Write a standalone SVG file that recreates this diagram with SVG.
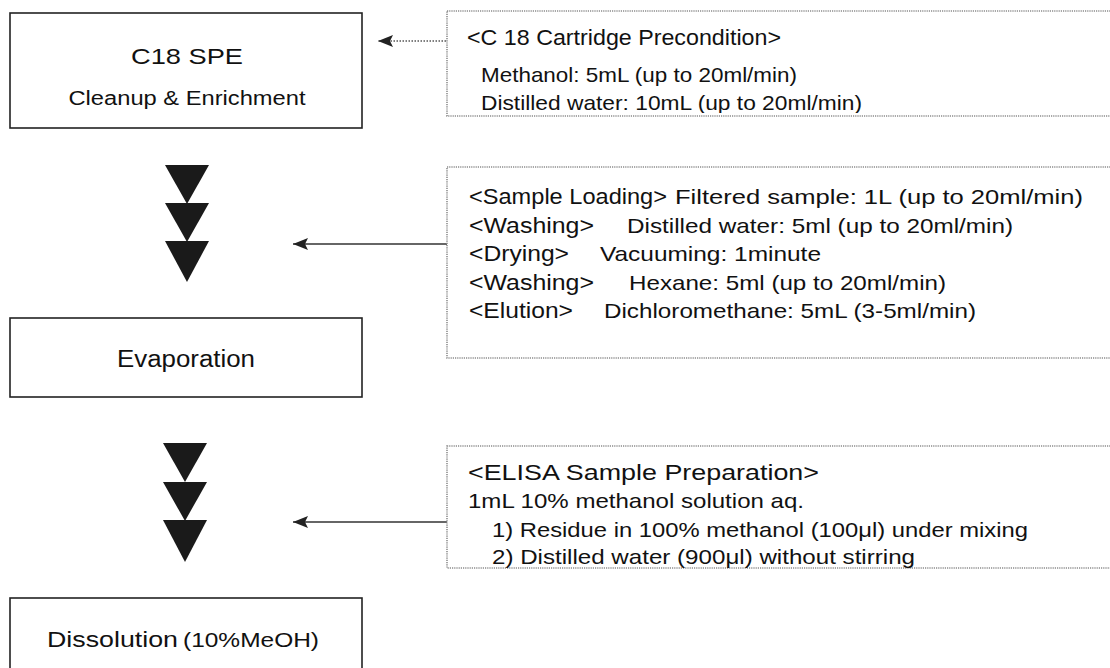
<svg xmlns="http://www.w3.org/2000/svg" width="1110" height="668" viewBox="0 0 1110 668">
<style>
text{font-family:"Liberation Sans",Arial,Helvetica,sans-serif;fill:#111}
.box{fill:#fff;stroke:#222;stroke-width:1.6}
.note{fill:none;stroke:#8c8c8c;stroke-width:1.6;stroke-dasharray:1.2 1}
.lbl{font-size:22.5px}
.det{font-size:21px}
.tri{fill:#1a1a1a}
.conn{stroke:#333;stroke-width:1.6;fill:none}
.dot{stroke:#555;stroke-width:1.4;stroke-dasharray:1.5 1.5;fill:none}
</style>
<defs>
<marker id="ah" markerWidth="16" markerHeight="12" refX="15" refY="6" orient="auto" markerUnits="userSpaceOnUse">
<path d="M0,0 L15,6 L0,12 L3,6 Z" fill="#222"/>
</marker>
<clipPath id="clip1"><rect x="447" y="11" width="663" height="102"/></clipPath>
</defs>

<g id="connectors">
<line class="dot" x1="446" y1="41" x2="378" y2="41" marker-end="url(#ah)"/>
<line class="conn" x1="447" y1="244" x2="293" y2="244" marker-end="url(#ah)"/>
<line class="conn" x1="447" y1="522" x2="293" y2="522" marker-end="url(#ah)"/>
<g id="flow1">
<polygon class="tri" points="165,165 209,165 187,204"/>
<polygon class="tri" points="165,203 209,203 187,242"/>
<polygon class="tri" points="165,241 209,241 187,282"/>
</g>
<g id="flow2">
<polygon class="tri" points="163,443 207,443 185,482"/>
<polygon class="tri" points="163,482 207,482 185,521"/>
<polygon class="tri" points="163,520 207,520 185,562"/>
</g>
</g>

<g id="node-spe">
<rect class="box" x="10" y="13" width="352" height="115"/>
<text x="187" y="64" text-anchor="middle" font-size="22.5" textLength="112" lengthAdjust="spacingAndGlyphs">C18 SPE</text>
<text x="187" y="105" text-anchor="middle" font-size="19.5" textLength="237" lengthAdjust="spacingAndGlyphs">Cleanup &amp; Enrichment</text>
</g>

<g id="node-evap">
<rect class="box" x="10" y="318" width="352" height="79"/>
<text x="186" y="367" text-anchor="middle" font-size="23" textLength="138" lengthAdjust="spacingAndGlyphs">Evaporation</text>
</g>

<g id="node-diss">
<rect class="box" x="10" y="598" width="352" height="90"/>
<text x="47" y="647" font-size="22.5" textLength="131" lengthAdjust="spacingAndGlyphs">Dissolution</text>
<text x="183" y="647" font-size="19.5" textLength="136" lengthAdjust="spacingAndGlyphs">(10%MeOH)</text>
</g>

<g id="note-precondition">
<rect class="note" x="447" y="11" width="700" height="105"/>
<g clip-path="url(#clip1)">
<text class="lbl" x="467" y="45" font-size="23" textLength="314" lengthAdjust="spacingAndGlyphs">&lt;C 18 Cartridge Precondition&gt;</text>
<text class="det" x="481" y="82" textLength="316" lengthAdjust="spacingAndGlyphs">Methanol: 5mL (up to 20ml/min)</text>
<text class="det" x="481" y="110" textLength="381" lengthAdjust="spacingAndGlyphs">Distilled water: 10mL (up to 20ml/min)</text>
</g>
</g>

<g id="note-spe">
<rect class="note" x="447" y="167" width="700" height="191"/>
<text class="lbl" x="469" y="204" textLength="198" lengthAdjust="spacingAndGlyphs">&lt;Sample Loading&gt;</text>
<text class="det" x="675" y="204" textLength="408" lengthAdjust="spacingAndGlyphs">Filtered sample: 1L (up to 20ml/min)</text>
<text class="lbl" x="469" y="233" textLength="125" lengthAdjust="spacingAndGlyphs">&lt;Washing&gt;</text>
<text class="det" x="627" y="233" textLength="386" lengthAdjust="spacingAndGlyphs">Distilled water: 5ml (up to 20ml/min)</text>
<text class="lbl" x="469" y="261" textLength="100" lengthAdjust="spacingAndGlyphs">&lt;Drying&gt;</text>
<text class="det" x="600" y="261" textLength="221" lengthAdjust="spacingAndGlyphs">Vacuuming: 1minute</text>
<text class="lbl" x="469" y="290" textLength="125" lengthAdjust="spacingAndGlyphs">&lt;Washing&gt;</text>
<text class="det" x="629" y="290" textLength="317" lengthAdjust="spacingAndGlyphs">Hexane: 5ml (up to 20ml/min)</text>
<text class="lbl" x="469" y="318" textLength="104" lengthAdjust="spacingAndGlyphs">&lt;Elution&gt;</text>
<text class="det" x="604" y="318" textLength="372" lengthAdjust="spacingAndGlyphs">Dichloromethane: 5mL (3-5ml/min)</text>
</g>

<g id="note-elisa">
<rect class="note" x="447" y="446" width="700" height="122"/>
<text class="lbl" x="468" y="480" textLength="351" lengthAdjust="spacingAndGlyphs">&lt;ELISA Sample Preparation&gt;</text>
<text class="det" x="468" y="508" textLength="336" lengthAdjust="spacingAndGlyphs">1mL 10% methanol solution aq.</text>
<text class="det" x="492" y="537" textLength="536" lengthAdjust="spacingAndGlyphs">1) Residue in 100% methanol (100μl) under mixing</text>
<text class="det" x="492" y="564" textLength="423" lengthAdjust="spacingAndGlyphs">2) Distilled water (900μl) without stirring</text>
</g>
</svg>
